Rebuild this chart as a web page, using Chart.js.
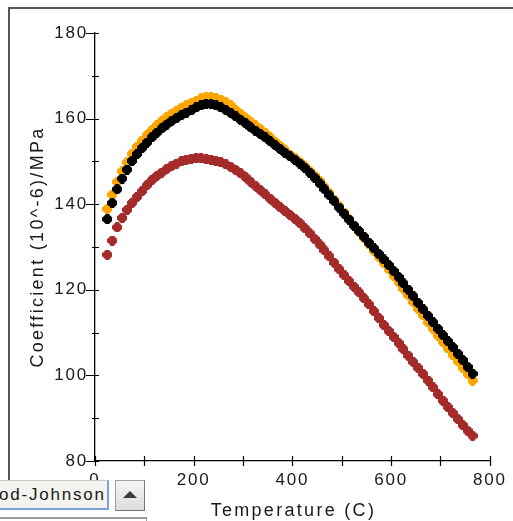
<!DOCTYPE html>
<html>
<head>
<meta charset="utf-8">
<script src="https://cdn.jsdelivr.net/npm/chart.js@4.4.0/dist/chart.umd.min.js"></script>
<style>
  html, body { margin: 0; padding: 0; background: #fff; overflow: hidden; }
  #wrap { position: relative; width: 513px; height: 521px; }
  #frame { position: absolute; left: 8px; top: 7px; width: 510px; height: 474px;
           border-left: 2px solid #555; border-top: 2px solid #555; }
  #combo { position: absolute; left: -2px; top: 480px; width: 111px; height: 30px;
           background: #f3f3f0; border: 1px solid #c8c8c8; border-right: 2px solid #7ba2dc;
           border-bottom: 2px solid #7ba2dc; box-sizing: border-box; overflow: hidden;
           font: 17px 'Liberation Sans', Arial, sans-serif; letter-spacing: 1.8px; color: #1a1a1a;
           line-height: 28px; white-space: nowrap; }
  #btn { position: absolute; left: 115px; top: 480px; width: 30px; height: 31px; box-sizing: border-box;
         background: linear-gradient(#f6f6f6, #dcdcdc); border: 1px solid #a0a0a0;
         border-right-color: #777; border-bottom-color: #777; }
  #btn:after { content: ""; position: absolute; left: 7px; top: 10px; width: 0; height: 0;
               border-left: 7px solid transparent; border-right: 7px solid transparent;
               border-bottom: 7px solid #3a3a3a; }
  #under { position: absolute; left: 0; top: 517px; width: 146px; height: 6px;
           border-top: 2px solid #9a9a9a; border-right: 1px solid #9a9a9a; }
</style>
</head>
<body>
<div id="wrap">
  <canvas id="chart1" width="513" height="521"></canvas>
  <div id="frame"></div>
  <div id="combo">od-Johnson</div>
  <div id="btn"></div>
  <div id="under"></div>
</div>
<script>
// Temperaturas (C)
var temps = [25, 35, 45, 55, 65, 75, 85, 95, 105, 115, 125, 135, 145, 155, 165, 175, 185, 195, 205, 215,
    225, 235, 245, 255, 265, 275, 285, 295, 305, 315, 325, 335, 345, 355, 365, 375, 385, 395, 405, 415,
    425, 435, 445, 455, 465, 475, 485, 495, 505, 515, 525, 535, 545, 555, 565, 575, 585, 595, 605, 615,
    625, 635, 645, 655, 665, 675, 685, 695, 705, 715, 725, 735, 745, 755, 765];

// Serie negra
var blackValues = [136.5, 140.3, 143.5, 146.0, 148.1, 150.1, 151.7, 153.1, 154.4, 155.6, 156.7, 157.7, 158.6, 159.4, 160.1, 160.8, 161.4, 161.9, 162.6, 163.1,
    163.4, 163.4, 163.1, 162.6, 162.0, 161.3, 160.5, 159.7, 158.9, 158.0, 157.2, 156.4, 155.6, 154.7, 153.8, 152.9, 152.0, 151.2, 150.4, 149.5,
    148.5, 147.4, 146.2, 144.9, 143.5, 142.1, 140.7, 139.2, 137.8, 136.4, 135.0, 133.7, 132.4, 131.0, 129.7, 128.4, 127.1, 125.8, 124.4, 123.0,
    121.5, 120.0, 118.5, 116.9, 115.4, 113.9, 112.4, 110.9, 109.4, 108.0, 106.6, 105.1, 103.6, 102.0, 100.4];

// Serie naranja
var orangeValues = [138.9, 142.2, 145.2, 147.7, 149.8, 151.8, 153.4, 154.8, 156.1, 157.3, 158.4, 159.4, 160.3, 161.1, 161.8, 162.5, 163.1, 163.6, 164.1, 164.7,
    165.0, 165.0, 164.8, 164.4, 163.8, 163.1, 162.0, 161.1, 160.2, 159.3, 158.4, 157.5, 156.6, 155.6, 154.6, 153.6, 152.6, 151.6, 150.8, 149.9,
    148.9, 147.8, 146.7, 145.5, 144.0, 142.6, 141.0, 139.5, 138.0, 136.5, 135.0, 133.6, 132.1, 130.6, 129.1, 127.7, 126.3, 124.8, 123.3, 121.8,
    120.2, 118.7, 117.1, 115.5, 114.0, 112.4, 110.9, 109.3, 107.8, 106.3, 104.8, 103.3, 101.8, 100.3, 98.8];

// Serie roja
var redValues = [128.2, 131.5, 134.6, 136.8, 138.7, 140.3, 141.7, 143.0, 144.4, 145.6, 146.6, 147.4, 148.2, 148.9, 149.5, 150.0, 150.4, 150.6, 150.8, 150.7,
    150.6, 150.4, 150.1, 149.8, 149.3, 148.7, 148.0, 147.2, 146.3, 145.3, 144.3, 143.3, 142.3, 141.3, 140.3, 139.3, 138.4, 137.5, 136.6, 135.6,
    134.4, 133.2, 131.9, 130.6, 129.2, 127.8, 126.3, 124.8, 123.4, 122.0, 120.7, 119.4, 118.0, 116.6, 115.0, 113.4, 111.8, 110.4, 109.0, 107.6,
    106.1, 104.6, 103.1, 101.7, 100.3, 98.8, 97.2, 95.6, 94.1, 92.6, 91.2, 89.8, 88.4, 87.1, 85.9];

// Etiquetas de los ejes
var xTitle = "Temperature (C)";
var yTitle = "Coefficient (10^-6)/MPa";
var xTickLabels = [0, 200, 400, 600, 800];
var yTickLabels = [80, 100, 120, 140, 160, 180];

var FONT = "'Liberation Sans', Arial, sans-serif";

// Marcador en forma de cruz gruesa
function plusMarker(color) {
    var c = document.createElement('canvas');
    c.width = 10;
    c.height = 10;
    var g = c.getContext('2d');
    g.fillStyle = color;
    g.fillRect(3, 0, 4, 10);
    g.fillRect(0, 3, 10, 4);
    g.fillRect(1, 1, 8, 8);
    g.clearRect(0, 0, 1, 1);
    g.clearRect(9, 0, 1, 1);
    g.clearRect(0, 9, 1, 1);
    g.clearRect(9, 9, 1, 1);
    g.clearRect(1, 1, 1, 1);
    g.clearRect(8, 1, 1, 1);
    g.clearRect(1, 8, 1, 1);
    g.clearRect(8, 8, 1, 1);
    return c;
}

function toPoints(values) {
    return temps.map(function (t, i) { return { x: t, y: values[i] }; });
}

// Ticks y titulos dibujados a mano sobre las escalas
var axisExtras = {
    id: 'axisExtras',
    beforeDraw: function (chart) {
        chart.ctx.letterSpacing = '1.8px';
    },
    afterDraw: function (chart) {
        var ctx = chart.ctx;
        var xs = chart.scales.x, ys = chart.scales.y;
        var x0 = xs.left, y0 = ys.bottom;
        ctx.save();
        ctx.strokeStyle = '#000';
        ctx.lineWidth = 1.2;
        ctx.beginPath();
        for (var v = 80; v <= 180; v += 10) {
            var py = Math.round(ys.getPixelForValue(v)) + 0.5;
            var major = v % 20 === 0;
            ctx.moveTo(x0 - (major ? 9 : 3), py);
            ctx.lineTo(x0 + 4, py);
        }
        for (var t = 0; t <= 800; t += 100) {
            var px = Math.round(xs.getPixelForValue(t)) + 0.5;
            ctx.moveTo(px, y0 - 5);
            ctx.lineTo(px, y0 + 5);
        }
        ctx.stroke();

        ctx.fillStyle = '#1a1a1a';
        ctx.font = '18px ' + FONT;
        ctx.letterSpacing = '2.3px';
        ctx.textAlign = 'center';
        ctx.textBaseline = 'alphabetic';
        ctx.fillText(xTitle, (xs.left + xs.right) / 2 + 1, 516);
        ctx.translate(42.5, (ys.top + ys.bottom) / 2);
        ctx.rotate(-Math.PI / 2);
        ctx.fillText(yTitle, 0, 0);
        ctx.restore();
    }
};

// Configuracion del grafico
var config = {
    type: 'scatter',
    data: {
        datasets: [{
            label: 'black',
            data: toPoints(blackValues),
            pointStyle: plusMarker('#000000'),
            pointRadius: 4
        }, {
            label: 'orange',
            data: toPoints(orangeValues),
            pointStyle: plusMarker('#ffa500'),
            pointRadius: 4
        }, {
            label: 'red',
            data: toPoints(redValues),
            pointStyle: plusMarker('#a52a2a'),
            pointRadius: 4
        }]
    },
    plugins: [axisExtras],
    options: {
        responsive: false,
        animation: false,
        events: [],
        layout: { padding: { left: 0, top: 33, right: 23, bottom: 0 } },
        plugins: { legend: { display: false }, tooltip: { enabled: false } },
        scales: {
            x: {
                type: 'linear',
                min: 0,
                max: 800,
                afterFit: function (s) { s.height = 60; },
                afterBuildTicks: function (s) { s.ticks = xTickLabels.map(function (v) { return { value: v }; }); },
                grid: { display: false, drawTicks: false },
                border: { display: true, color: '#000', width: 1.3 },
                ticks: { color: '#1a1a1a', padding: 9, maxRotation: 0, autoSkip: false, font: { family: FONT, size: 17 } }
            },
            y: {
                min: 80,
                max: 180,
                afterFit: function (s) { s.width = 95; },
                afterBuildTicks: function (s) { s.ticks = yTickLabels.map(function (v) { return { value: v }; }); },
                grid: { display: false, drawTicks: false },
                border: { display: true, color: '#000', width: 1.3 },
                ticks: { color: '#1a1a1a', padding: 7, autoSkip: false, font: { family: FONT, size: 17 } }
            }
        }
    }
};

// Crear el grafico
var ctxChart1 = document.getElementById('chart1').getContext('2d');
new Chart(ctxChart1, config);
</script>
</body>
</html>
